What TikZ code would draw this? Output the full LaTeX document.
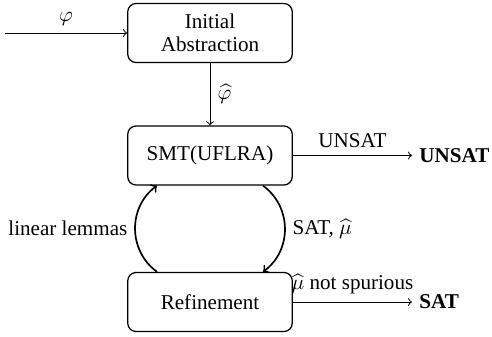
\documentclass[tikz,border=0pt]{standalone}
\usepackage{fontspec}
\setmainfont{Liberation Serif}
\usepackage{amsmath}
\begin{document}
\begin{tikzpicture}[x=0.474pt,y=-0.474pt,
  box/.style={draw, rounded corners=4pt, line width=0.6pt, minimum width=78pt, minimum height=28pt, align=center, inner sep=2pt},
  flow/.style={->, line width=0.45pt},
  loop/.style={->, line width=0.8pt}]
\useasboundingbox (0,0) rectangle (492,337);
\node[box] (init) at (210,33) {Initial\\[-1pt]Abstraction};
\node[box] (smt) at (210,155.5) {SMT(UFLRA)};
\node[box] (ref) at (210,302) {Refinement};
\coordinate (in) at (5,33);
\node[anchor=west, font=\bfseries] (unsat) at (412,155.5) {UNSAT};
\node[anchor=west, font=\bfseries] (sat) at (412,302) {SAT};
\draw[flow] (in) -- node[above] {$\varphi$} (init.west);
\draw[flow] (init.south) -- node[right] {$\widehat{\varphi}$} (smt.north);
\draw[flow] (smt.east) -- node[above] {UNSAT} (unsat.west);
\draw[flow] (ref.east) -- node[above] {$\widehat{\mu}$ not spurious} (sat.west);
\draw[loop] (ref.north -| 157,0) to[out=144,in=216,looseness=1.07] node[left] {linear lemmas} (smt.south -| 157,0);
\draw[loop] (smt.south -| 263,0) to[out=-36,in=36,looseness=1.07] node[right] {SAT, $\widehat{\mu}$} (ref.north -| 263,0);
\end{tikzpicture}
\end{document}
